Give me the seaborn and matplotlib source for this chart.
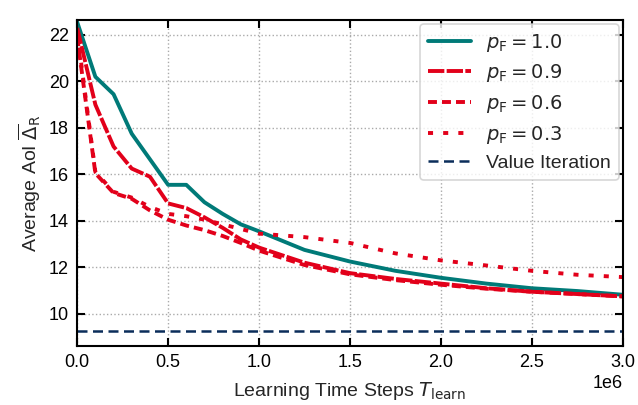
import pandas as pd
import matplotlib
matplotlib.use("Agg")
import matplotlib.pyplot as plt
import seaborn as sns

# learning time steps (x1e6) and average AoI per forwarding probability
steps = [0.0, 0.1, 0.2, 0.3, 0.4, 0.5, 0.6, 0.7, 0.8, 0.9, 1.0,
         1.25, 1.5, 1.75, 2.0, 2.25, 2.5, 2.75, 3.0]
aoi_p10 = [22.55, 20.2, 19.45, 17.75, 16.65, 15.55, 15.55, 14.8, 14.3, 13.85, 13.55,
           12.75, 12.25, 11.85, 11.55, 11.3, 11.1, 10.98, 10.82]
aoi_p09 = [22.3, 19.0, 17.2, 16.25, 15.9, 14.75, 14.55, 14.15, 13.7, 13.2, 12.85,
           12.2, 11.75, 11.5, 11.3, 11.1, 10.95, 10.85, 10.75]
aoi_p06 = [21.9, 16.05, 15.2, 14.95, 14.45, 14.05, 13.8, 13.6, 13.35, 13.05, 12.72,
           12.1, 11.7, 11.45, 11.25, 11.08, 10.95, 10.85, 10.75]
aoi_p03 = [22.1, 16.1, 15.25, 15.0, 14.6, 14.3, 14.2, 14.05, 13.85, 13.65, 13.45,
           13.3, 13.05, 12.6, 12.3, 12.08, 11.85, 11.68, 11.58]
value_iteration = 9.27

labels = [r"$p_\mathrm{F} = 1.0$", r"$p_\mathrm{F} = 0.9$",
          r"$p_\mathrm{F} = 0.6$", r"$p_\mathrm{F} = 0.3$"]

sns.set_theme(style="ticks")
plt.rcParams['font.family'] = ['Liberation Sans', 'DejaVu Sans']
plt.rcParams['mathtext.fontset'] = 'dejavusans'

fig = plt.figure(figsize=(6.38, 4.05), dpi=100)
ax = fig.add_axes([0.121, 0.146, 0.855, 0.805])

x = [s * 1e6 for s in steps]
teal = "#007a78"
red = "#e2001a"
sns.lineplot(x=x, y=aoi_p10, ax=ax, color=teal, lw=2.8, label=labels[0])
sns.lineplot(x=x, y=aoi_p09, ax=ax, color=red, lw=2.8, label=labels[1])
sns.lineplot(x=x, y=aoi_p06, ax=ax, color=red, lw=2.8, label=labels[2])
sns.lineplot(x=x, y=aoi_p03, ax=ax, color=red, lw=2.8, label=labels[3])
ax.lines[1].set_dashes((4.2, 0.6))
ax.lines[2].set_dashes((2.3, 1.3))
ax.lines[3].set_dashes((1.3, 2.6))
ax.axhline(value_iteration, color="#0b2d5a", lw=1.8, ls=(0, (4, 2.2)), label="Value Iteration")

ax.set_xlim(0, 3e6)
ax.set_ylim(8.62, 22.65)
ax.set_yticks([10, 12, 14, 16, 18, 20, 22])
ax.set_xlabel(r"Learning Time Steps $T_\mathrm{learn}$", fontsize=14, labelpad=6)
ax.set_ylabel(r"Average AoI $\overline{\Delta}_\mathrm{R}$", fontsize=14, labelpad=4)
ax.tick_params(direction="in", length=6, width=1.5, labelsize=13, pad=6,
               top=True, right=True, colors="black")
ax.xaxis.get_offset_text().set_fontsize(13)
for sp in ax.spines.values():
    sp.set_linewidth(1.5)
    sp.set_color("black")
ax.grid(True, ls=":", color="#aaaaaa", lw=1)

leg = ax.legend(loc="upper right", fontsize=14, frameon=True, fancybox=True,
                handlelength=2.2, borderpad=0.4, labelspacing=0.45,
                borderaxespad=0.2)
leg.get_frame().set_edgecolor("#cccccc")
leg.get_frame().set_linewidth(1.2)

plt.savefig("out.png", dpi=100)
